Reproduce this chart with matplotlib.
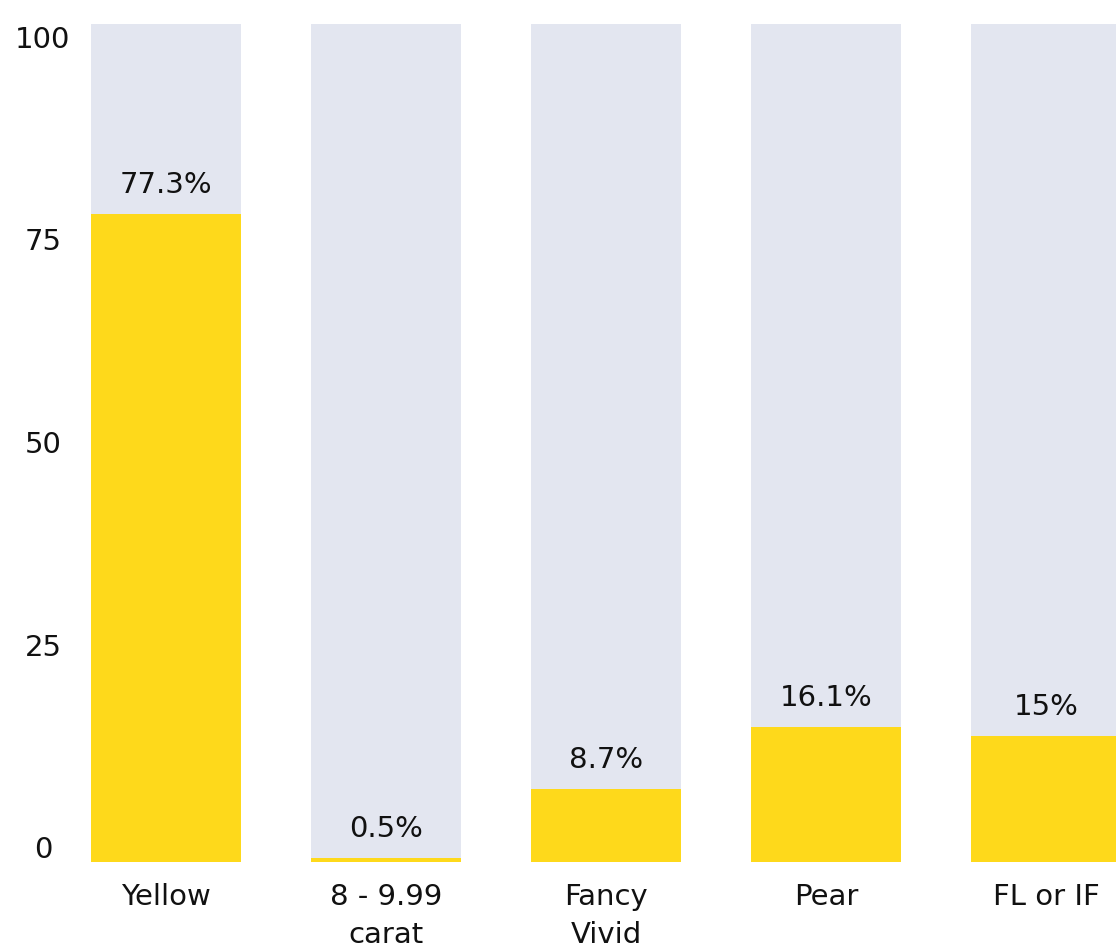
import matplotlib
matplotlib.use("Agg")
import matplotlib.pyplot as plt
from matplotlib.transforms import offset_copy

categories = ["Yellow", "8 - 9.99\ncarat", "Fancy\nVivid", "Pear", "FL or IF"]
values = [77.3, 0.5, 8.7, 16.1, 15.0]
value_labels = ["77.3%", "0.5%", "8.7%", "16.1%", "15%"]
yticks = [0, 25, 50, 75, 100]

yellow = "#FED91B"
grey = "#E3E6F0"
ink = "#111111"

plt.rcParams['font.family'] = ['DejaVu Sans']

W, H = 1116, 946
fig = plt.figure(figsize=(W / 100, H / 100), dpi=100)
ax = fig.add_axes([80 / W, (H - 862) / H, (W - 80) / W, (862 - 24) / H])

x = list(range(len(categories)))
bw = 150 / 220
ax.bar(x, [100] * len(x), width=bw, color=grey, zorder=1)
ax.bar(x, values, width=bw, color=yellow, zorder=2)

for xi, v, lab in zip(x, values, value_labels):
    ax.annotate(lab, (xi, v), xytext=(0, 15), textcoords="offset points",
                ha="center", va="baseline", fontsize=21, color=ink)

ax.set_xlim(-0.391, 4.318)
ax.set_ylim(0, 100)
ax.set_xticks(x)
ax.set_xticklabels(categories, fontsize=21, color=ink, linespacing=1.45)
ax.tick_params(axis="x", length=0, pad=15)

# y labels sit slightly compressed toward the middle, as in the original
ax.set_yticks(yticks)
ax.set_yticklabels([])
ax.tick_params(axis="y", length=0)
base = ax.get_yaxis_transform()
for t in yticks:
    dy = -(-12 + 28 * t / 100) * 0.72
    tr = offset_copy(base, fig=fig, x=0, y=dy, units="points")
    ax.text(-37 / (W - 80), t, str(t), transform=tr, ha="center", va="center",
            fontsize=21, color=ink)

for s in ax.spines.values():
    s.set_visible(False)

fig.savefig("out.png", dpi=100)
